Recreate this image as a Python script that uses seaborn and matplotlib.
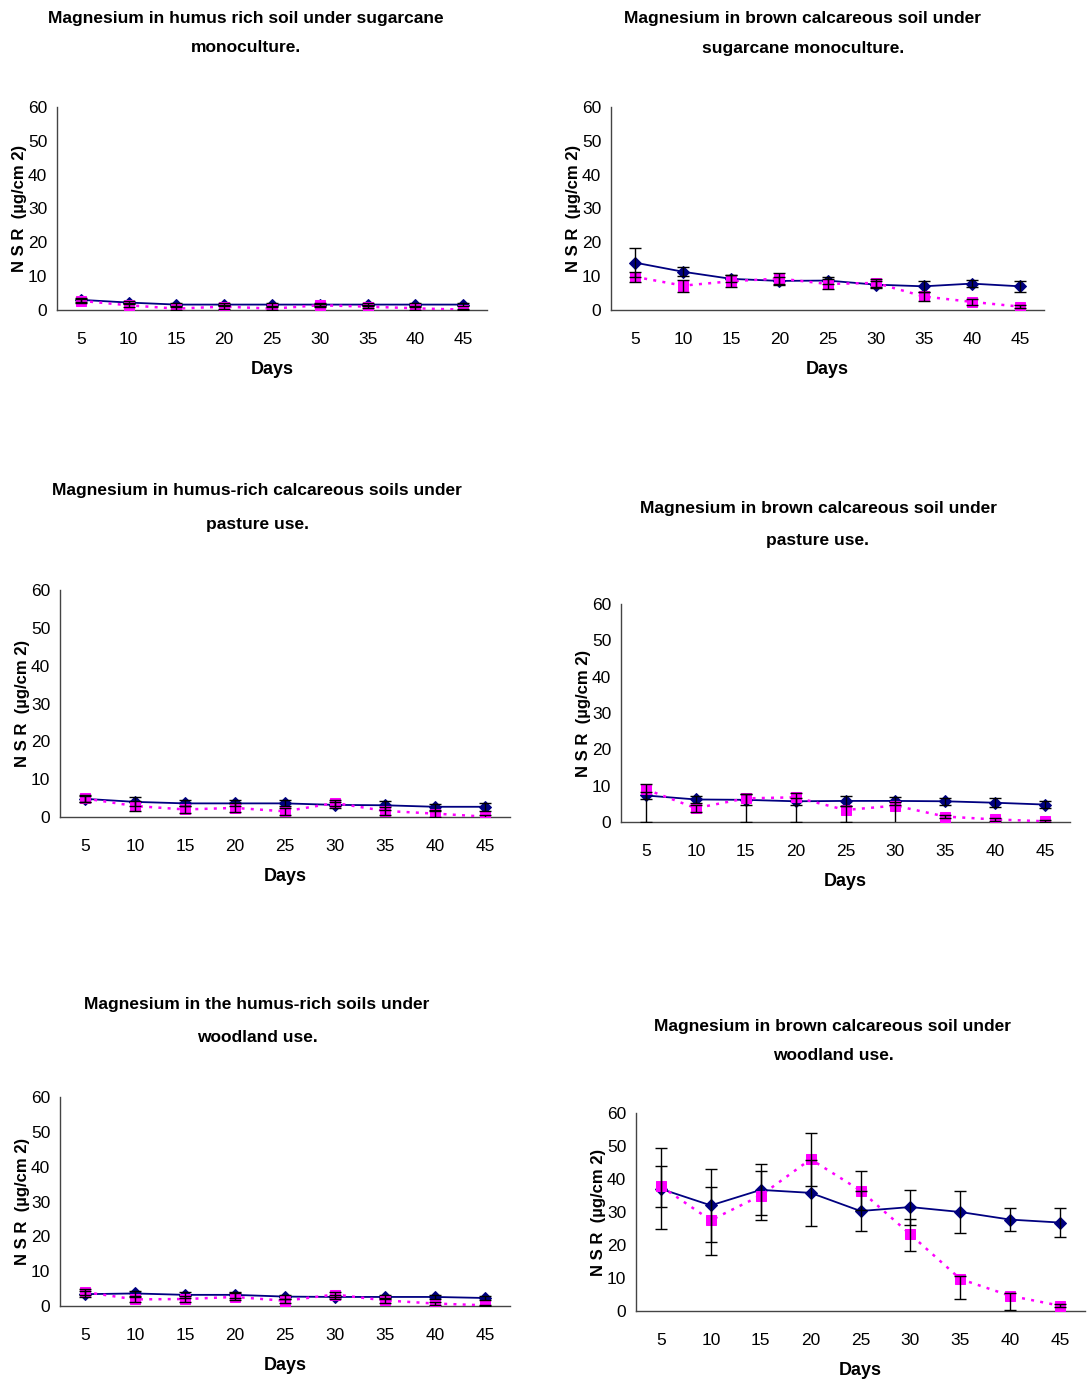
import numpy as np
import matplotlib.pyplot as plt
import seaborn as sns

sns.set_style("white")
plt.rcParams['font.family'] = ['Liberation Sans Narrow', 'Liberation Sans', 'DejaVu Sans']
plt.rcParams.update({'text.color': 'black', 'axes.labelcolor': 'black',
                     'xtick.color': 'black', 'ytick.color': 'black'})

days = [5, 10, 15, 20, 25, 30, 35, 40, 45]

titles = [
    ("Magnesium in humus rich soil under sugarcane", "monoculture."),
    ("Magnesium in brown calcareous soil under", "sugarcane monoculture."),
    ("Magnesium in humus-rich calcareous soils under", "pasture use."),
    ("Magnesium in brown calcareous soil under", "pasture use."),
    ("Magnesium in the humus-rich soils under", "woodland use."),
    ("Magnesium in brown calcareous soil under", "woodland use."),
]

# series 1 (navy, solid, diamonds) and series 2 (magenta, dotted, squares)
blue_vals = [
    [3.0, 2.2, 1.6, 1.6, 1.6, 1.6, 1.6, 1.6, 1.6],
    [14.0, 11.3, 9.2, 8.6, 8.7, 7.5, 7.0, 7.8, 7.0],
    [4.8, 4.0, 3.6, 3.6, 3.6, 3.2, 3.1, 2.7, 2.7],
    [7.3, 6.2, 6.1, 5.7, 5.8, 5.8, 5.7, 5.3, 4.8],
    [3.4, 3.6, 3.2, 3.2, 2.7, 2.6, 2.6, 2.6, 2.3],
    [37.0, 32.0, 36.7, 35.8, 30.3, 31.5, 30.0, 27.7, 26.8],
]
blue_err = [
    [0.5, 0.5, 0.4, 0.4, 0.4, 0.4, 0.4, 0.4, 0.4],
    [4.3, 1.3, 1.0, 1.2, 1.0, 1.0, 1.7, 1.0, 1.7],
    [0.8, 1.2, 0.8, 0.8, 0.8, 0.8, 1.2, 0.8, 1.0],
    [1.0, 0.9, 1.5, 1.0, 1.3, 1.0, 1.0, 1.3, 1.0],
    [0.8, 0.8, 0.8, 0.8, 0.6, 0.6, 0.6, 0.6, 0.5],
    [12.3, 11.0, 7.7, 10.0, 6.0, 5.3, 6.3, 3.6, 4.3],
]
pink_vals = [
    [2.7, 1.4, 0.4, 1.0, 0.4, 1.4, 1.0, 0.5, 0.1],
    [9.8, 7.2, 8.5, 9.3, 7.7, 8.0, 4.0, 2.4, 1.0],
    [4.9, 2.9, 2.0, 2.4, 1.5, 3.7, 1.6, 0.9, 0.1],
    [9.0, 3.8, 6.5, 6.8, 3.3, 4.5, 1.5, 0.7, 0.2],
    [4.0, 1.9, 2.0, 2.6, 1.5, 3.3, 1.6, 0.7, 0.2],
    [37.8, 27.5, 35.0, 46.0, 36.5, 23.2, 9.7, 4.6, 1.6],
]
pink_err_lo = [
    [0.6, 0.6, 0.4, 0.6, 0.4, 0.5, 0.5, 0.4, 0.1],
    [1.5, 1.8, 1.8, 1.5, 1.5, 1.2, 1.2, 0.8, 0.5],
    [1.0, 1.2, 1.0, 1.2, 1.0, 0.8, 1.0, 0.8, 0.5],
    [9.0, 1.0, 6.5, 6.8, 3.3, 5.5, 0.5, 0.5, 0.3],
    [0.8, 0.8, 0.8, 1.0, 0.6, 0.6, 0.6, 0.5, 0.2],
    [6.2, 10.5, 7.5, 8.0, 5.8, 4.9, 6.2, 4.2, 0.5],
]
pink_err_hi = [
    [0.6, 0.6, 0.4, 0.6, 0.4, 0.5, 0.5, 0.4, 0.1],
    [1.5, 1.8, 1.8, 1.5, 1.5, 1.2, 1.2, 0.8, 0.5],
    [1.0, 1.2, 1.0, 1.2, 1.0, 0.8, 1.0, 0.8, 0.5],
    [1.5, 1.0, 1.3, 1.2, 1.0, 1.0, 0.5, 0.5, 0.3],
    [0.8, 0.8, 0.8, 1.0, 0.6, 0.6, 0.6, 0.5, 0.2],
    [6.2, 10.0, 7.5, 8.0, 5.8, 4.6, 1.0, 0.8, 0.5],
]

W, H = 1087, 1381
fig = plt.figure(figsize=(W / 100, H / 100), dpi=100)

# axes boxes in pixels: left, right, bottom(y=0), top(y=60); title centre x, title line y's
boxes = [
    (57, 487, 310, 107, 246, 18, 48),
    (611, 1044, 310, 107, 803, 18, 48),
    (60, 510, 817, 590, 257, 490, 525),
    (621, 1070, 822, 604, 818, 508, 541),
    (60, 510, 1306, 1097, 257, 1005, 1037),
    (636, 1085, 1311, 1113, 833, 1026, 1055),
]

pos = np.arange(len(days))
for i, (l, r, b, t, tx, ty1, ty2) in enumerate(boxes):
    ax = fig.add_axes([l / W, 1 - b / H, (r - l) / W, (b - t) / H])
    ax.errorbar(pos, blue_vals[i], yerr=blue_err[i], fmt='none', ecolor='black',
                elinewidth=1, capsize=4, capthick=1, zorder=4)
    ax.errorbar(pos, pink_vals[i], yerr=[pink_err_lo[i], pink_err_hi[i]], fmt='none',
                ecolor='black', elinewidth=1, capsize=4, capthick=1, zorder=4)
    sns.lineplot(x=pos, y=blue_vals[i], ax=ax, color='#000080', lw=1.3, marker='D',
                 markersize=6, markeredgecolor='#000080', zorder=3)
    sns.lineplot(x=pos, y=pink_vals[i], ax=ax, color='#FF00FF', lw=1.8, ls=(0, (1.2, 2.5)),
                 marker='s', markersize=7, markeredgecolor='#FF00FF', zorder=3)
    ax.set_xlim(-0.5, len(days) - 0.5)
    ax.set_ylim(0, 60)
    ax.set_yticks(range(0, 61, 10))
    ax.set_xticks(np.arange(-0.5, len(days), 1.0))
    ax.set_xticks(pos, minor=True)
    ax.set_xticklabels([])
    ax.set_xticklabels([str(d) for d in days], minor=True)
    ax.tick_params(axis='x', which='major', direction='out', length=5, width=1, color='#444444')
    ax.tick_params(axis='x', which='minor', length=0, pad=16, labelsize=12.5)
    ax.tick_params(axis='y', direction='out', length=5, width=1, color='#444444',
                   labelsize=12.5, pad=2)
    for s in ['top', 'right']:
        ax.spines[s].set_visible(False)
    for s in ['left', 'bottom']:
        ax.spines[s].set_color('#444444')
        ax.spines[s].set_linewidth(1)
    ax.set_ylabel('N S R  (µg/cm 2)', fontsize=12, fontweight='bold', labelpad=0)
    ax.yaxis.set_label_coords(-30 / (r - l), 0.5)
    ax.set_xlabel('Days', fontsize=13, fontweight='bold', labelpad=10)
    fig.text(tx / W, 1 - ty1 / H, titles[i][0], ha='center', va='center',
             fontsize=12.5, fontweight='bold')
    fig.text(tx / W, 1 - ty2 / H, titles[i][1], ha='center', va='center',
             fontsize=12.5, fontweight='bold')

fig.savefig('out.png', dpi=100)
